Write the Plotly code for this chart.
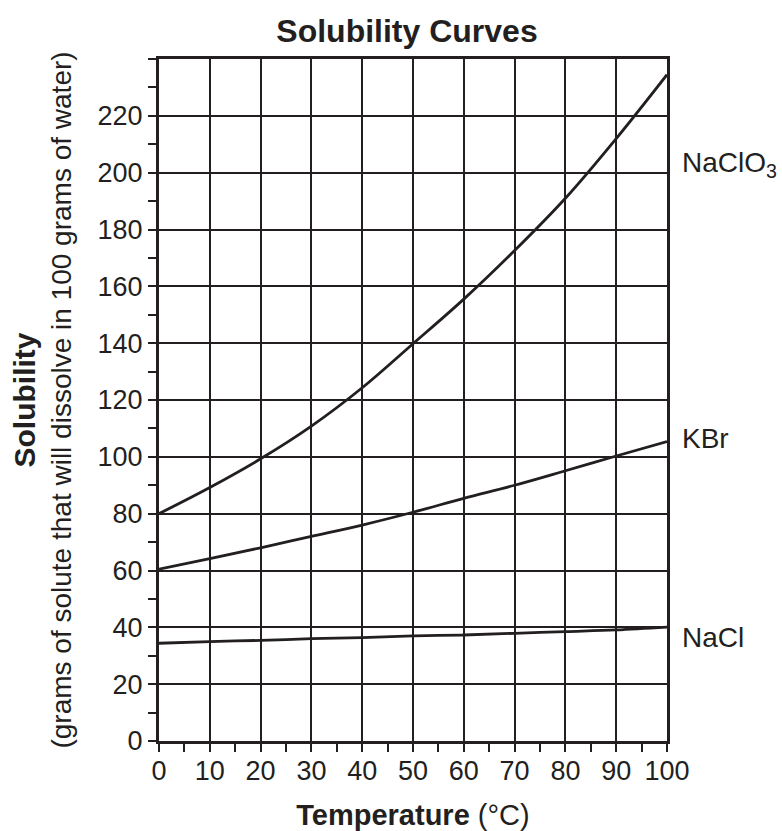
import plotly.graph_objects as go

temps = [0, 10, 20, 30, 40, 50, 60, 70, 80, 90, 100]
naclo3 = [80, 89.2, 99.3, 110.8, 124.3, 139.8, 155.5, 172.6, 191, 212, 234.5]
kbr = [60.5, 64.2, 68, 72, 76, 80.5, 85.4, 90, 95.1, 100.3, 105.4]
nacl = [34.4, 35, 35.4, 36, 36.4, 37, 37.3, 37.9, 38.5, 39.1, 40.1]

labels = ["NaClO<sub>3</sub>", "KBr", "NaCl"]
label_y = [203, 106.6, 36.3]

y_major = list(range(0, 221, 20))
y_minor = list(range(10, 241, 20)) + [240]
x_major = list(range(0, 101, 10))
x_minor = list(range(5, 100, 10))

FONT = "Liberation Sans, Arial, Helvetica, sans-serif"
INK = "#231f20"
W, H = 782, 831

fig = go.Figure()
for ys in (naclo3, kbr, nacl):
    fig.add_trace(go.Scatter(x=temps, y=ys, mode="lines",
                             line=dict(color=INK, width=2.8, shape="spline", smoothing=1.0),
                             showlegend=False, hoverinfo="skip"))

for txt, yv in zip(labels, label_y):
    fig.add_annotation(x=1.026, y=yv / 240, xref="paper", yref="paper", text=txt, showarrow=False,
                       xanchor="left", yanchor="middle",
                       font=dict(family=FONT, size=28, color=INK))

fig.update_layout(
    width=W, height=H,
    margin=dict(l=159, r=115, t=59, b=90, autoexpand=False),
    paper_bgcolor="white", plot_bgcolor="white",
    title=dict(text="<b>Solubility Curves</b>", x=407 / W, xref="container", xanchor="center",
               y=1 - 31 / H, yref="container", yanchor="middle",
               font=dict(family=FONT, size=32, color=INK)),
    font=dict(family=FONT, color=INK),
)

fig.update_xaxes(
    range=[0, 100], tickmode="array", tickvals=x_major, ticktext=[str(v) for v in x_major],
    ticks="outside", ticklen=8, tickwidth=2, tickcolor=INK,
    showgrid=True, gridcolor=INK, gridwidth=1.6,
    showline=True, linecolor=INK, linewidth=3, mirror=True,
    zeroline=False, automargin=False, ticklabelstandoff=-4,
    tickfont=dict(family=FONT, size=27, color=INK),
    minor=dict(tickmode="array", tickvals=x_minor, ticks="outside", ticklen=8,
               tickwidth=2, tickcolor=INK, showgrid=False),
    title=dict(text="<b>Temperature</b> (°C)", font=dict(family=FONT, size=29, color=INK), standoff=26),
)

fig.update_yaxes(
    range=[0, 240], tickmode="array", tickvals=y_major, ticktext=[str(v) for v in y_major],
    ticks="outside", ticklen=8, tickwidth=2, tickcolor=INK,
    showgrid=True, gridcolor=INK, gridwidth=1.6,
    showline=True, linecolor=INK, linewidth=3, mirror=True,
    zeroline=False, automargin=False,
    tickfont=dict(family=FONT, size=27, color=INK),
    minor=dict(tickmode="array", tickvals=y_minor, ticks="outside", ticklen=8,
               tickwidth=2, tickcolor=INK, showgrid=False),
    title=dict(text="<b><span style='font-size:30px'>Solubility</span></b><br>(grams of solute that will dissolve in 100 grams of water)",
               font=dict(family=FONT, size=28, color=INK), standoff=18),
)

fig.write_html("out.html", config={"displayModeBar": False},
               post_script="document.body.style.margin='0';document.body.style.overflow='hidden';")
